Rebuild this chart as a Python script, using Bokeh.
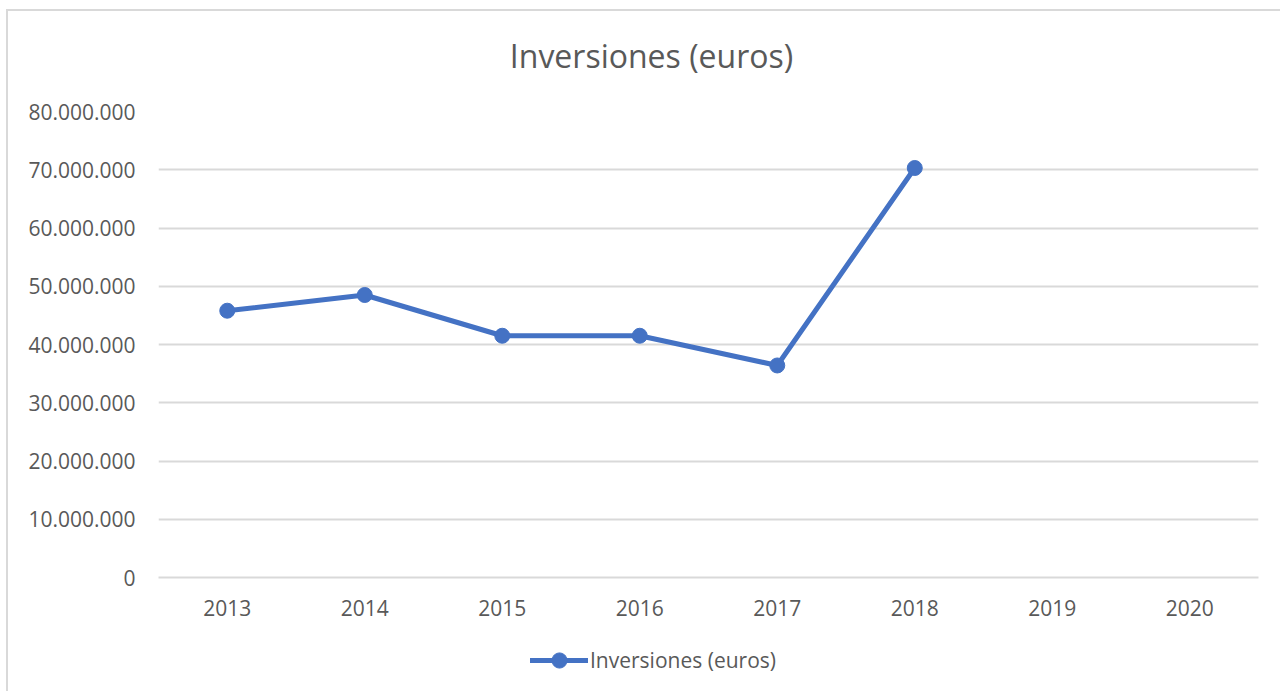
from bokeh.plotting import figure
from bokeh.models import (ColumnDataSource, Range1d, CustomJSTickFormatter, FixedTicker,
                          Legend, LegendItem, Label)
from bokeh.layouts import column
from bokeh.embed import file_html
from bokeh.resources import INLINE

categories = ["2013", "2014", "2015", "2016", "2017", "2018", "2019", "2020"]
data_years = ["2013", "2014", "2015", "2016", "2017", "2018"]
inversiones = [45800000, 48500000, 41500000, 41500000, 36400000, 70300000]
y_ticks = [0, 10000000, 20000000, 30000000, 40000000, 50000000, 60000000, 70000000, 80000000]
title_text = "Inversiones (euros)"
series_name = "Inversiones (euros)"

FONT = "Open Sans"
TXT = "#595959"
BLUE = "#4472C4"
GRID = "#d9d9d9"
W = 1272


def blank(height):
    f = figure(width=W, height=height, x_range=Range1d(0, 1), y_range=Range1d(0, 1),
               x_axis_location=None, y_axis_location=None,
               min_border=0, output_backend="svg", toolbar_location=None)
    f.outline_line_color = None
    f.xgrid.grid_line_color = None
    f.ygrid.grid_line_color = None
    return f


# title strip (its frame is aligned with the main chart's frame by the column layout)
tf = blank(80)
tf.add_layout(Label(x=493, y=36, x_units="screen", y_units="screen", text=title_text,
                    text_align="center", text_baseline="alphabetic", text_font=FONT,
                    text_font_size="32px", text_color=TXT))

# main chart
p = figure(x_range=categories, y_range=Range1d(0, 80000000),
           frame_width=1100, frame_height=466,
           min_border_left=150, min_border_right=22, min_border_top=20, min_border_bottom=50,
           output_backend="svg", toolbar_location=None)
p.outline_line_color = None

src = ColumnDataSource(dict(x=data_years, y=inversiones))
p.line("x", "y", source=src, line_color=BLUE, line_width=5, line_cap="round", line_join="round")
p.scatter("x", "y", source=src, size=15, fill_color=BLUE, line_color=BLUE)

p.yaxis.ticker = FixedTicker(ticks=y_ticks)
p.yaxis.formatter = CustomJSTickFormatter(code="""
return Math.round(tick).toString().replace(/\\B(?=(\\d{3})+(?!\\d))/g, ".");
""")
for ax in [p.xaxis[0], p.yaxis[0]]:
    ax.major_label_text_font = FONT
    ax.major_label_text_font_size = "21px"
    ax.major_label_text_color = TXT
    ax.major_tick_line_color = None
    ax.minor_tick_line_color = None
p.yaxis.axis_line_color = None
p.yaxis.major_label_standoff = 17
p.xaxis.axis_line_color = GRID
p.xaxis.axis_line_width = 2
p.xaxis.major_label_standoff = 16

p.xgrid.grid_line_color = None
p.ygrid.grid_line_color = GRID
p.ygrid.grid_line_width = 2

# legend strip: proxy renderers sit outside the strip's visible range
lf = blank(64)
proxy = ColumnDataSource(dict(x=[-5], y=[-5]))
lg_line = lf.line("x", "y", source=proxy, line_color=BLUE, line_width=5, line_cap="round")
lg_dot = lf.scatter("x", "y", source=proxy, size=15, fill_color=BLUE, line_color=BLUE)
legend = Legend(items=[LegendItem(label=series_name, renderers=[lg_line, lg_dot])],
                location=(372, 12), orientation="horizontal",
                glyph_width=58, glyph_height=38, label_standoff=2, padding=0, margin=0,
                label_text_font=FONT, label_text_font_size="21px", label_text_color=TXT,
                border_line_color=None, background_fill_alpha=0)
lf.add_layout(legend, "center")

layout = column(tf, p, lf, spacing=0)
layout.styles = {"border-left": "2px solid #d9d9d9", "border-top": "2px solid #d9d9d9",
                 "margin-top": "9px", "margin-left": "6px"}

open("out.html", "w").write(file_html(layout, INLINE))
